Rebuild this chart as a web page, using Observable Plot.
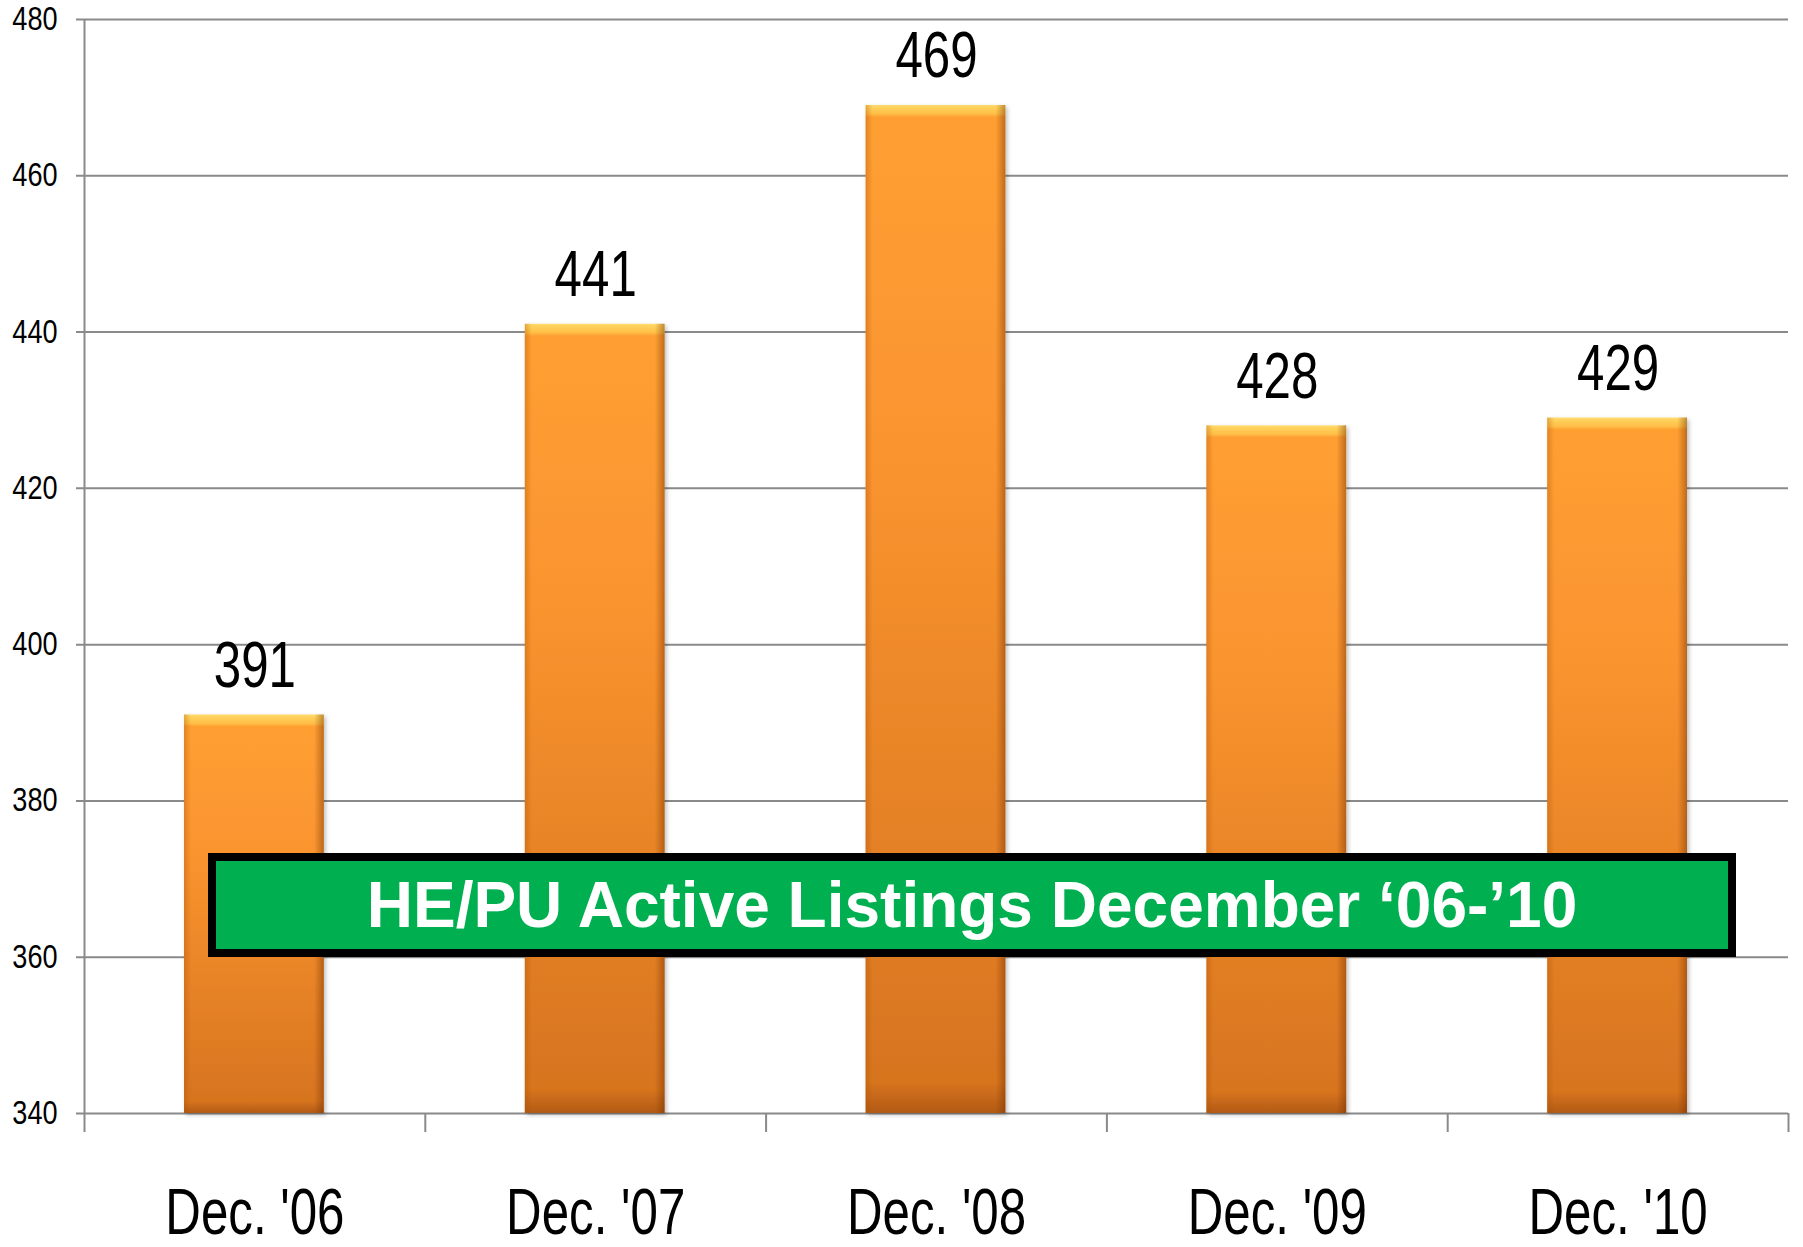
<!DOCTYPE html>
<html>
<head>
<meta charset="utf-8">
<script src="https://cdn.jsdelivr.net/npm/d3@7"></script>
<script src="https://cdn.jsdelivr.net/npm/@observablehq/plot@0.6"></script>
<style>
  html, body { margin: 0; padding: 0; background: #fff; }
  #wrap { position: relative; width: 1803px; height: 1247px; }
  #title {
    position: absolute; left: 208px; top: 853px; width: 1512px; height: 88px;
    border: 8px solid #000; background: #00AF50; color: #fff;
    font-family: "Liberation Sans", Arial, sans-serif; font-weight: bold; font-size: 64px;
    display: flex; align-items: center; justify-content: center; line-height: 1;
    white-space: nowrap;
  }
</style>
</head>
<body>
<div id="wrap"><div id="chart"></div><div id="title"></div></div>
<script>
const categories = ["Dec. '06", "Dec. '07", "Dec. '08", "Dec. '09", "Dec. '10"];
const values = [391, 441, 469, 428, 429];
const yTicks = [340, 360, 380, 400, 420, 440, 460, 480];
const title = "HE/PU Active Listings December \u201806-\u201910";

const data = categories.map((c, i) => ({c, i, v: values[i]}));
const font = "'Liberation Sans', Arial, sans-serif";
const grid = "#8a8a8a";

const chart = Plot.plot({
  width: 1803, height: 1247,
  marginLeft: 84, marginRight: 15, marginTop: 19, marginBottom: 134,
  style: {fontFamily: font, background: "#fff"},
  x: {domain: [0, categories.length], axis: null},
  y: {domain: [yTicks[0], yTicks[yTicks.length - 1]], axis: null},
  marks: [
    Plot.ruleY(yTicks, {stroke: grid, strokeWidth: 2, insetLeft: -8}),
    Plot.ruleX([0], {stroke: grid, strokeWidth: 2}),
    Plot.axisX({ticks: d3.range(categories.length + 1), tickSize: 19, tickFormat: () => "", label: null,
      stroke: grid, strokeWidth: 2}),
    Plot.axisY({ticks: yTicks, tickSize: 0, tickPadding: 27, fontSize: 33, fill: "#000", label: null}),
    Plot.rectY(data, {x1: "i", x2: d => d.i + 1, y1: yTicks[0], y2: "v", insetLeft: 100, insetRight: 101,
      fill: "#F68A2C", className: "bars"}),
    Plot.rectY(data, {x1: "i", x2: d => d.i + 1, y1: yTicks[0], y2: "v", insetLeft: 100, insetRight: 101,
      fill: "url(#hshade)"}),
    Plot.text(data, {x: d => d.i + 0.5, y: "v", text: d => String(d.v), dy: -28, lineAnchor: "bottom",
      fontSize: 64, fill: "#000"}),
    Plot.text(data, {x: d => d.i + 0.5, frameAnchor: "bottom", text: "c", dy: 120, lineAnchor: "bottom",
      fontSize: 64, fill: "#000"})
  ]
});
document.getElementById("chart").appendChild(chart);
document.getElementById("title").textContent = title;

// narrow (condensed) look of the original fonts
d3.select(chart).selectAll("text").each(function() {
  const txt = this.textContent;
  if (!txt) return;
  const fs = parseFloat(getComputedStyle(this).fontSize);
  const k = fs > 50 ? 0.77 : 0.82;
  const len = this.getComputedTextLength();
  this.setAttribute("textLength", (len * k).toFixed(1));
  this.setAttribute("lengthAdjust", "spacingAndGlyphs");
});

// gradients
const svg = d3.select(chart);
const defs = svg.insert("defs", ":first-child");
const hs = defs.append("linearGradient").attr("id", "hshade").attr("x1", 0).attr("x2", 1).attr("y1", 0).attr("y2", 0);
[[0, "rgba(170,80,0,0.35)"], [0.05, "rgba(170,80,0,0)"], [0.93, "rgba(120,50,0,0)"], [1, "rgba(110,45,0,0.45)"]]
  .forEach(([o, c]) => hs.append("stop").attr("offset", o).attr("stop-color", c));
const f = defs.append("filter").attr("id", "shadow").attr("x", "-10%").attr("y", "-10%").attr("width", "130%").attr("height", "130%");
f.append("feDropShadow").attr("dx", 2).attr("dy", 2).attr("stdDeviation", 2).attr("flood-color", "#000").attr("flood-opacity", 0.25);
svg.selectAll(".bars rect").each(function(_, i) {
  const h = +this.getAttribute("height");
  const g = defs.append("linearGradient").attr("id", "bar" + i).attr("x1", 0).attr("x2", 0).attr("y1", 0).attr("y2", 1);
  [[0, "#FFDC70"], [3 / h, "#FFD05A"], [9 / h, "#FFBE46"], [12 / h, "#FF9F33"], [0.35, "#FA942F"], [0.97, "#D7741F"], [1, "#B25A15"]]
    .forEach(([o, c]) => g.append("stop").attr("offset", o).attr("stop-color", c));
  this.setAttribute("fill", `url(#bar${i})`);
  this.setAttribute("filter", "url(#shadow)");
});
</script>
</body>
</html>
